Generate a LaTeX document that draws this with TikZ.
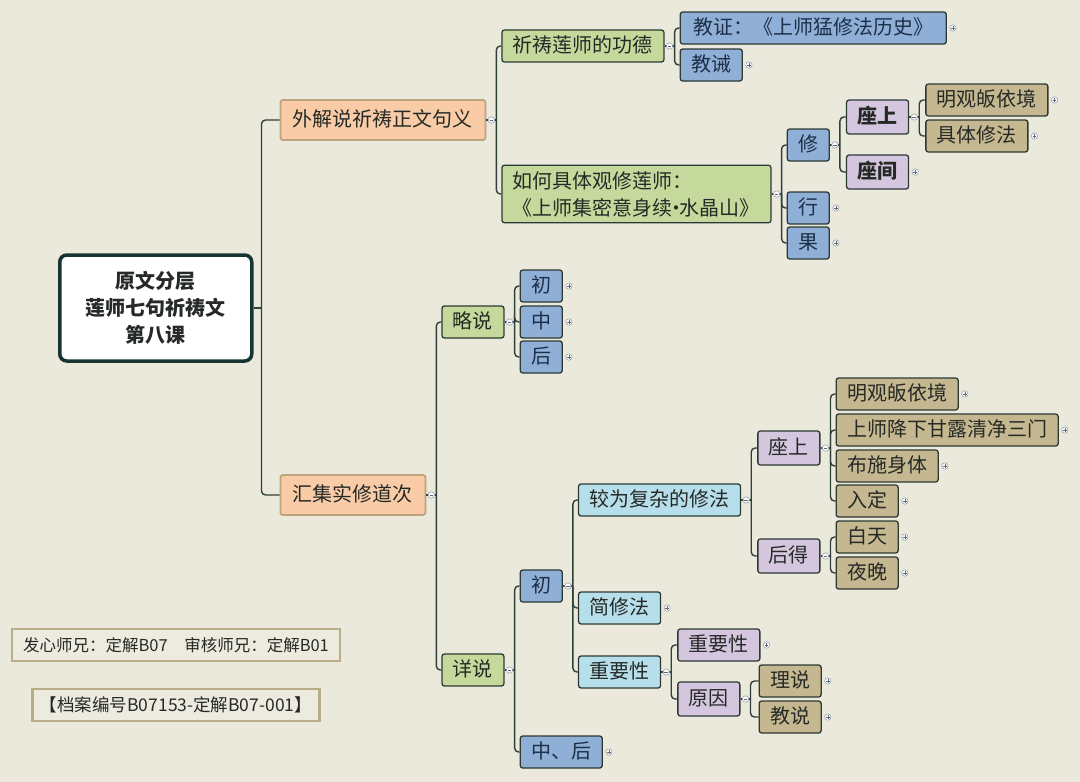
\documentclass[tikz,border=0pt]{standalone}
\usepackage{fontspec}
\setmainfont{Noto Sans CJK SC}
\definecolor{paper}{HTML}{EBE8DC}
\definecolor{inkcol}{HTML}{262A26}
\definecolor{navy}{HTML}{1C3049}
\definecolor{linecol}{HTML}{2F4038}
\definecolor{edgecol}{HTML}{2B3A33}
\definecolor{rootedge}{HTML}{163530}
\definecolor{peachfill}{HTML}{F9CCA7}
\definecolor{peachedge}{HTML}{BDA47C}
\definecolor{greenfill}{HTML}{C6D99C}
\definecolor{bluefill}{HTML}{90AFD7}
\definecolor{lilacfill}{HTML}{D5C6DF}
\definecolor{tanfill}{HTML}{C5B78F}
\definecolor{skyfill}{HTML}{B7DFEB}
\definecolor{notefill}{HTML}{EDEADF}
\definecolor{noteedge}{HTML}{B9AE88}
\definecolor{knobedge}{HTML}{9AA5B5}
\definecolor{knobink}{HTML}{5E6876}
\tikzset{
  cell/.style={draw=edgecol, line width=1.3pt, rounded corners=2.5pt, inner xsep=11pt,
    inner ysep=6.5pt, anchor=west, text=inkcol, font=\fontsize{20}{27}\selectfont},
  box/.style={cell, text height=16pt, text depth=3pt},
  greenbox/.style={box, fill=greenfill},
  bluebox/.style={box, fill=bluefill, text=navy},
  lilacbox/.style={box, fill=lilacfill, inner ysep=7.5pt},
  tanbox/.style={box, fill=tanfill},
  skybox/.style={box, fill=skyfill},
  peachbox/.style={box, fill=peachfill, draw=peachedge, line width=1.8pt, inner xsep=12.5pt, inner ysep=10.5pt},
  rootbox/.style={cell, fill=white, draw=rootedge, line width=3.5pt, rounded corners=7pt, align=center,
    minimum width=192pt, minimum height=106pt, font=\fontsize{20}{27}\selectfont\bfseries},
  notebox/.style={draw=noteedge, line width=2.5pt, fill=notefill, text=inkcol, minimum height=32pt,
    font=\fontsize{16.5}{19}\selectfont},
  branch/.style={draw=linecol, line width=1.4pt, rounded corners=4pt},
  knob/.style={draw=knobedge, line width=0.6pt, fill=white!85!paper},
  knobsign/.style={draw=knobink, line width=0.6pt},
  fold/.pic={\draw[knob] (0,0) circle[radius=3.2pt]; \draw[knobsign] (-1.8pt,0) -- (1.8pt,0);},
  unfold/.pic={\draw[knob] (0,0) circle[radius=3.2pt];
    \draw[knobsign] (-1.8pt,0) -- (1.8pt,0) (0,-1.8pt) -- (0,1.8pt);}
}
\newcommand\fork[3][10]{%
  \draw[branch] (#2.east) -- ++(#1,0) coordinate (#2-s);
  \foreach \c in {#3} \draw[branch] (#2-s) |- (\c.west);
}
\begin{document}
\begin{tikzpicture}[x=1pt,y=-1pt]
  \fill[paper] (0,0) rectangle (1080,782);
  \useasboundingbox (0,0) rectangle (1080,782);
  \node[rootbox] (root) at (58,308) {原文分层\\莲师七句祈祷文\\第八课};
  \node[peachbox, xshift=26pt] (waijie) at (root.east |- 0,120) {外解说祈祷正文句义};
  \node[peachbox, xshift=26pt] (huiji) at (root.east |- 0,495) {汇集实修道次};
  \node[greenbox, xshift=15pt] (gongde) at (waijie.east |- 0,46) {祈祷莲师的功德};
  \node[cell, fill=greenfill, align=left, inner ysep=6pt, xshift=15pt] (guanxiu) at (waijie.east |- 0,194)
    {如何具体观修莲师：\\《上师集密意身续\makebox[7pt]{·}水晶山》};
  \node[bluebox, xshift=15pt, minimum width=266pt] (jiaozheng) at (gongde.east |- 0,28) {教证：《上师猛修法历史》};
  \node[bluebox, xshift=15pt] (jiaojie) at (gongde.east |- 0,65) {教诫};
  \node[bluebox, xshift=15pt] (xiu) at (guanxiu.east |- 0,145) {修};
  \node[bluebox, xshift=15pt] (xing) at (guanxiu.east |- 0,208) {行};
  \node[bluebox, xshift=15pt] (guo) at (guanxiu.east |- 0,243) {果};
  \node[lilacbox, xshift=16pt, font=\fontsize{20}{27}\selectfont\bfseries] (zuoshang) at (xiu.east |- 0,117) {座上};
  \node[lilacbox, xshift=16pt, font=\fontsize{20}{27}\selectfont\bfseries] (zuojian) at (xiu.east |- 0,172) {座间};
  \node[tanbox, xshift=16pt] (mingguan) at (zuoshang.east |- 0,100) {明观皈依境};
  \node[tanbox, xshift=16pt] (juti) at (zuoshang.east |- 0,136) {具体修法};
  \node[greenbox, xshift=15pt] (lueshuo) at (huiji.east |- 0,322) {略说};
  \node[greenbox, xshift=15pt] (xiangshuo) at (huiji.east |- 0,670) {详说};
  \node[bluebox, xshift=15pt] (chuA) at (lueshuo.east |- 0,286) {初};
  \node[bluebox, xshift=15pt] (zhongA) at (lueshuo.east |- 0,322) {中};
  \node[bluebox, xshift=15pt] (houA) at (lueshuo.east |- 0,357) {后};
  \node[bluebox, xshift=15pt] (chuB) at (xiangshuo.east |- 0,586) {初};
  \node[bluebox, xshift=15pt] (zhonghou) at (xiangshuo.east |- 0,752) {中、后};
  \node[skybox, xshift=15pt] (fuza) at (chuB.east |- 0,500) {较为复杂的修法};
  \node[skybox, xshift=15pt] (jianxiu) at (chuB.east |- 0,608) {简修法};
  \node[skybox, xshift=15pt] (zhongyao) at (chuB.east |- 0,672) {重要性};
  \node[lilacbox, xshift=16pt] (zuoshangB) at (fuza.east |- 0,448) {座上};
  \node[lilacbox, xshift=16pt] (houde) at (fuza.east |- 0,556) {后得};
  \node[tanbox, xshift=15pt] (mingguanB) at (zuoshangB.east |- 0,394) {明观皈依境};
  \node[tanbox, xshift=15pt] (jianglu) at (zuoshangB.east |- 0,430) {上师降下甘露清净三门};
  \node[tanbox, xshift=15pt] (bushi) at (zuoshangB.east |- 0,466) {布施身体};
  \node[tanbox, xshift=15pt] (ruding) at (zuoshangB.east |- 0,501) {入定};
  \node[tanbox, xshift=15pt] (baitian) at (houde.east |- 0,537) {白天};
  \node[tanbox, xshift=15pt] (yewan) at (houde.east |- 0,573) {夜晚};
  \node[lilacbox, xshift=16pt, inner ysep=6.5pt] (zhongyaoB) at (zhongyao.east |- 0,645) {重要性};
  \node[lilacbox, xshift=16pt] (yuanyin) at (zhongyao.east |- 0,699) {原因};
  \node[tanbox, xshift=18pt] (lishuo) at (yuanyin.east |- 0,681) {理说};
  \node[tanbox, xshift=18pt] (jiaoshuo) at (yuanyin.east |- 0,717) {教说};
  \node[notebox, minimum width=328pt] (faxin) at (176,645) {发心师兄：定解B07\quad 审核师兄：定解B01};
  \node[notebox, minimum width=287pt, font=\fontsize{17.5}{20}\selectfont] (dangan) at (176,705) {【档案编号B07153-定解B07-001】};
  \fork[8]{root}{waijie,huiji}
  \fork{waijie}{gongde,guanxiu}
  \fork{gongde}{jiaozheng,jiaojie}
  \fork{guanxiu}{xiu,xing,guo}
  \fork{xiu}{zuoshang,zuojian}
  \fork{zuoshang}{mingguan,juti}
  \fork{huiji}{lueshuo,xiangshuo}
  \fork{lueshuo}{chuA,zhongA,houA}
  \fork{xiangshuo}{chuB,zhonghou}
  \fork{chuB}{fuza,jianxiu,zhongyao}
  \fork{fuza}{zuoshangB,houde}
  \fork{zuoshangB}{mingguanB,jianglu,bushi,ruding}
  \fork{houde}{baitian,yewan}
  \fork{zhongyao}{zhongyaoB,yuanyin}
  \fork{yuanyin}{lishuo,jiaoshuo}
  \foreach \n in {waijie,huiji,gongde,guanxiu,xiu,zuoshang,lueshuo,xiangshuo,chuB,fuza,zuoshangB,houde,zhongyao,yuanyin}
    \pic at ([xshift=5pt]\n.east) {fold};
  \foreach \n in {jiaozheng,jiaojie,zuojian,mingguan,juti,xing,guo,chuA,zhongA,houA,zhonghou,jianxiu,
      mingguanB,jianglu,bushi,ruding,baitian,yewan,zhongyaoB,lishuo,jiaoshuo}
    \pic at ([xshift=6pt]\n.east) {unfold};
\end{tikzpicture}
\end{document}
